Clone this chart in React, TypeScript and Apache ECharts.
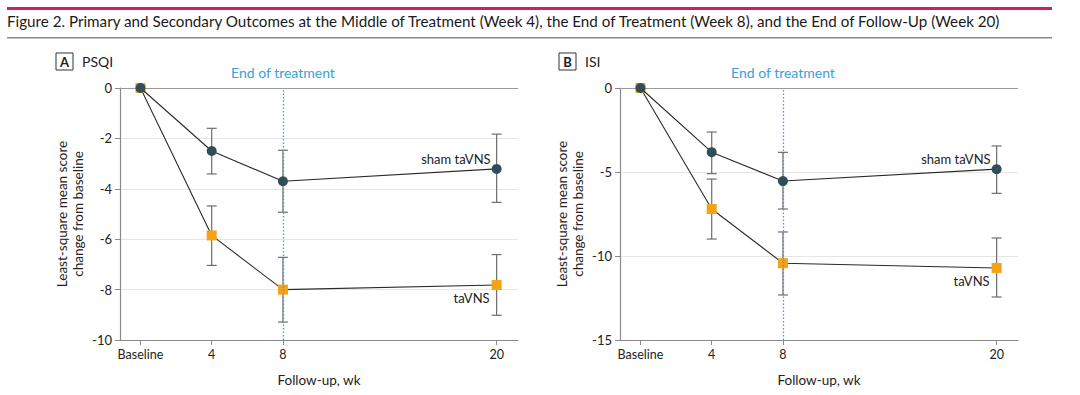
import React, { useEffect, useRef } from "react";
import * as echarts from "echarts";

const weeks = [0, 4, 8, 20];
const ciWeeks = [4, 8, 20];
const xTickLabels = ["Baseline", "4", "8", "20"];

const psqiSham = [0, -2.5, -3.7, -3.21];
const psqiShamUpper = [-1.6, -2.47, -1.83];
const psqiShamLower = [-3.41, -4.93, -4.54];
const psqiTa = [0, -5.85, -8.0, -7.82];
const psqiTaUpper = [-4.68, -6.72, -6.61];
const psqiTaLower = [-7.04, -9.29, -9.02];

const isiSham = [0, -3.82, -5.54, -4.83];
const isiShamUpper = [-2.62, -3.83, -3.45];
const isiShamLower = [-5.1, -7.2, -6.27];
const isiTa = [0, -7.2, -10.43, -10.71];
const isiTaUpper = [-5.42, -8.57, -8.93];
const isiTaLower = [-8.99, -12.32, -12.44];

const FONT = "Lato";
const SHAM = "#2f4e59";
const TA = "#f5a214";
const BLUE = "#3aa0da";
const AXIS = "#8a8a8a";
const ERR = "#6e6e6e";

function errData(lo: number[], hi: number[]) {
  return ciWeeks.map((w, i) => [w, lo[i], hi[i]]);
}

function App() {
  const ref = useRef<HTMLDivElement>(null);
  useEffect(() => {
    const chart = echarts.init(ref.current!, null, { renderer: "svg" });

    const panels = [
      {
        left: 120,
        min: -10,
        interval: 2,
        sham: psqiSham, shamU: psqiShamUpper, shamL: psqiShamLower,
        ta: psqiTa, taU: psqiTaUpper, taL: psqiTaLower,
        shamOffset: [4, -10], taOffset: [3, 13],
      },
      {
        left: 620,
        min: -15,
        interval: 5,
        sham: isiSham, shamU: isiShamUpper, shamL: isiShamLower,
        ta: isiTa, taU: isiTaUpper, taL: isiTaLower,
        shamOffset: [4, -10], taOffset: [3, 13],
      },
    ];

    const grid = panels.map((p) => ({
      left: p.left, width: 398, top: 88, height: 252,
    }));

    const xAxis = panels.map((p, i) => ({
      type: "value",
      gridIndex: i,
      min: -1.15,
      max: 21.2,
      name: "Follow-up, wk",
      nameLocation: "middle",
      nameGap: 33,
      nameTextStyle: { fontFamily: FONT, fontSize: 13.5, color: "#222" },
      axisLine: { show: true, onZero: false, lineStyle: { color: AXIS, width: 1.2 } },
      axisTick: { show: true, customValues: weeks, length: 5, lineStyle: { color: AXIS } },
      axisLabel: {
        customValues: weeks,
        formatter: (v: number) => xTickLabels[weeks.indexOf(v)] ?? "",
        fontFamily: FONT, fontSize: 12.5, color: "#222", margin: 8,
      },
      splitLine: { show: false },
    }));

    const yAxis = panels.map((p, i) => ({
      type: "value",
      gridIndex: i,
      min: p.min,
      max: 0,
      interval: p.interval,
      name: "Least-square mean score\nchange from baseline",
      nameLocation: "middle",
      nameGap: 34,
      nameTextStyle: { fontFamily: FONT, fontSize: 13.5, color: "#222", lineHeight: 16 },
      axisLine: { show: true, onZero: false, lineStyle: { color: AXIS, width: 1.2 } },
      axisTick: { show: true, length: 5, lineStyle: { color: AXIS } },
      axisLabel: { fontFamily: FONT, fontSize: 13, color: "#222", margin: 8 },
      splitLine: { show: true, lineStyle: { color: "#e6e6e6", width: 1 } },
    }));

    const errorSeries = (data: number[][], i: number) => ({
      type: "custom",
      xAxisIndex: i,
      yAxisIndex: i,
      z: 3,
      silent: true,
      data,
      renderItem: (params: any, api: any) => {
        const top = api.coord([api.value(0), api.value(2)]);
        const bot = api.coord([api.value(0), api.value(1)]);
        const cap = 5;
        const style = { stroke: ERR, lineWidth: 1.2 };
        return {
          type: "group",
          children: [
            { type: "line", shape: { x1: top[0], y1: top[1], x2: bot[0], y2: bot[1] }, style },
            { type: "line", shape: { x1: top[0] - cap, y1: top[1], x2: top[0] + cap, y2: top[1] }, style },
            { type: "line", shape: { x1: bot[0] - cap, y1: bot[1], x2: bot[0] + cap, y2: bot[1] }, style },
          ],
        };
      },
    });

    const series: any[] = [];
    panels.forEach((p, i) => {
      series.push({
        type: "line",
        xAxisIndex: i,
        yAxisIndex: i,
        data: [],
        silent: true,
        z: 2,
        markLine: {
          silent: true,
          symbol: "none",
          lineStyle: { color: "#9a9a9a", width: 1.2, type: "solid" },
          label: { show: false },
          data: [{ yAxis: 0 }],
        },
      });
      series.push({
        type: "line",
        xAxisIndex: i,
        yAxisIndex: i,
        data: [],
        silent: true,
        z: 2,
        color: BLUE,
        markLine: {
          silent: true,
          symbol: "none",
          lineStyle: { color: BLUE, width: 1.3, type: [1.5, 2], opacity: 1 },
          label: {
            show: true,
            position: "end",
            formatter: "End of treatment",
            color: BLUE,
            fontFamily: FONT,
            fontSize: 14,
            distance: 9,
          },
          data: [{ xAxis: 8 }],
        },
      });
      series.push(errorSeries(errData(p.shamL, p.shamU), i));
      series.push(errorSeries(errData(p.taL, p.taU), i));
      series.push({
        type: "line",
        xAxisIndex: i,
        yAxisIndex: i,
        z: 4,
        symbol: "rect",
        symbolSize: 10,
        lineStyle: { color: "#2a2a2a", width: 1.1 },
        itemStyle: { color: TA, borderWidth: 0 },
        data: weeks.map((w, k) => {
          const item: any = { value: [w, p.ta[k]] };
          if (k === weeks.length - 1) {
            item.label = {
              show: true, position: "left", formatter: "taVNS",
              offset: p.taOffset, fontFamily: FONT, fontSize: 13, color: "#222",
            };
          }
          return item;
        }),
      });
      series.push({
        type: "line",
        xAxisIndex: i,
        yAxisIndex: i,
        z: 5,
        symbol: "circle",
        symbolSize: 10,
        lineStyle: { color: "#2a2a2a", width: 1.1 },
        itemStyle: { color: SHAM, borderWidth: 0 },
        data: weeks.map((w, k) => {
          const item: any = { value: [w, p.sham[k]] };
          if (k === weeks.length - 1) {
            item.label = {
              show: true, position: "left", formatter: "sham taVNS",
              offset: p.shamOffset, fontFamily: FONT, fontSize: 13, color: "#222",
            };
          }
          return item;
        }),
      });
    });

    const panelLabel = (x: number, letter: string, name: string) => [
      {
        type: "rect",
        shape: { x, y: 53, width: 17, height: 17 },
        style: { fill: "#fff", stroke: "#333", lineWidth: 1 },
      },
      {
        type: "text",
        x: x + 8.5,
        y: 61.5,
        style: {
          text: letter, fontFamily: FONT, fontWeight: "bold", fontSize: 13,
          fill: "#222", align: "center", verticalAlign: "middle",
        },
      },
      {
        type: "text",
        x: x + 26,
        y: 61.5,
        style: {
          text: name, fontFamily: FONT, fontSize: 14, fill: "#222",
          align: "left", verticalAlign: "middle",
        },
      },
    ];

    chart.setOption({
      animation: false,
      backgroundColor: "#fff",
      title: {
        text: "Figure 2. Primary and Secondary Outcomes at the Middle of Treatment (Week 4), the End of Treatment (Week 8), and the End of Follow-Up (Week 20)",
        left: 7,
        top: 13,
        padding: 0,
        textStyle: { fontFamily: FONT, fontSize: 15.2, fontWeight: "normal", color: "#1a1a1a" },
      },
      graphic: [
        { type: "rect", shape: { x: 7, y: 7, width: 1045, height: 3 }, style: { fill: "#d81b60" } },
        { type: "rect", shape: { x: 7, y: 37, width: 1045, height: 1.5 }, style: { fill: "#8a8a8a" } },
        ...panelLabel(56, "A", "PSQI"),
        ...panelLabel(559, "B", "ISI"),
      ],
      grid,
      xAxis,
      yAxis,
      series,
    });

    return () => chart.dispose();
  }, []);

  return (
    <div
      ref={ref}
      style={{ position: "fixed", left: 0, top: 0, width: 1080, height: 395 }}
    />
  );
}

export default App;
